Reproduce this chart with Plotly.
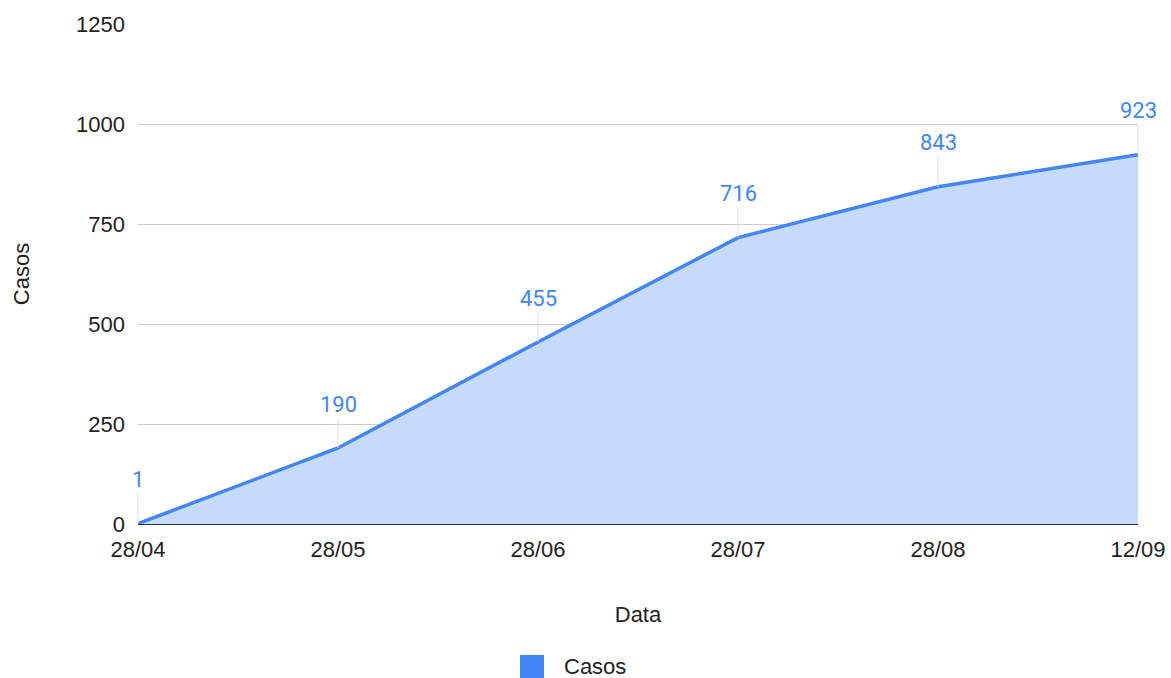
import plotly.graph_objects as go

# Cumulative cases by date
datas = ["28/04", "28/05", "28/06", "28/07", "28/08", "12/09"]
casos = [1, 190, 455, 716, 843, 923]
y_ticks = [0, 250, 500, 750, 1000, 1250]
serie = "Casos"

LINE = "#4285f4"
FILL = "#c6dafc"
TXT = "Liberation Sans, Arial, sans-serif"
LBL = "Roboto"
DARK = "#222222"

fig = go.Figure()

fig.add_trace(go.Scatter(
    x=datas, y=casos, mode="lines", name=serie,
    line=dict(color=LINE, width=3.5),
    fill="tozeroy", fillcolor=FILL,
    showlegend=False, hoverinfo="x+y",
))

# value labels with thin leader lines
for d, v in zip(datas, casos):
    fig.add_annotation(
        x=d, y=v, text=str(v), showarrow=True,
        ax=0, ay=-44, arrowhead=0, arrowwidth=1, arrowcolor="#dddddd",
        standoff=0, startstandoff=0,
        font=dict(family=LBL, size=22, color=LINE),
    )

# legend: square swatch + series name below the x axis title
fig.add_shape(type="rect", xref="paper", yref="paper",
              x0=0.382, x1=0.406, y0=-0.308, y1=-0.262,
              fillcolor=LINE, line=dict(width=0))
fig.add_annotation(xref="paper", yref="paper", x=0.424, y=-0.284,
                   xanchor="left", yanchor="middle", showarrow=False,
                   text=serie, font=dict(family=TXT, size=22, color=DARK))

fig.update_layout(
    width=1171, height=678,
    margin=dict(l=138, r=33, t=24, b=154, autoexpand=False),
    plot_bgcolor="white", paper_bgcolor="white",
    font=dict(family=TXT, size=22, color=DARK),
    showlegend=False,
    xaxis=dict(
        type="category", range=[0, len(datas) - 1], automargin=False,
        showgrid=False, zeroline=False, showline=False,
        ticks="", ticklabelstandoff=10,
        tickfont=dict(family=TXT, size=22, color=DARK),
        title=dict(text="Data", font=dict(family=TXT, size=22, color=DARK), standoff=45),
    ),
    yaxis=dict(
        range=[0, 1250], tickvals=y_ticks, automargin=False,
        showgrid=True, gridcolor="#cccccc", gridwidth=1,
        zeroline=True, zerolinecolor="#333333", zerolinewidth=2,
        showline=False, ticks="", ticklabelstandoff=12,
        tickfont=dict(family=TXT, size=22, color=DARK),
        title=dict(text="Casos", font=dict(family=TXT, size=22, color=DARK), standoff=40),
    ),
)

fig.write_html("out.html")
